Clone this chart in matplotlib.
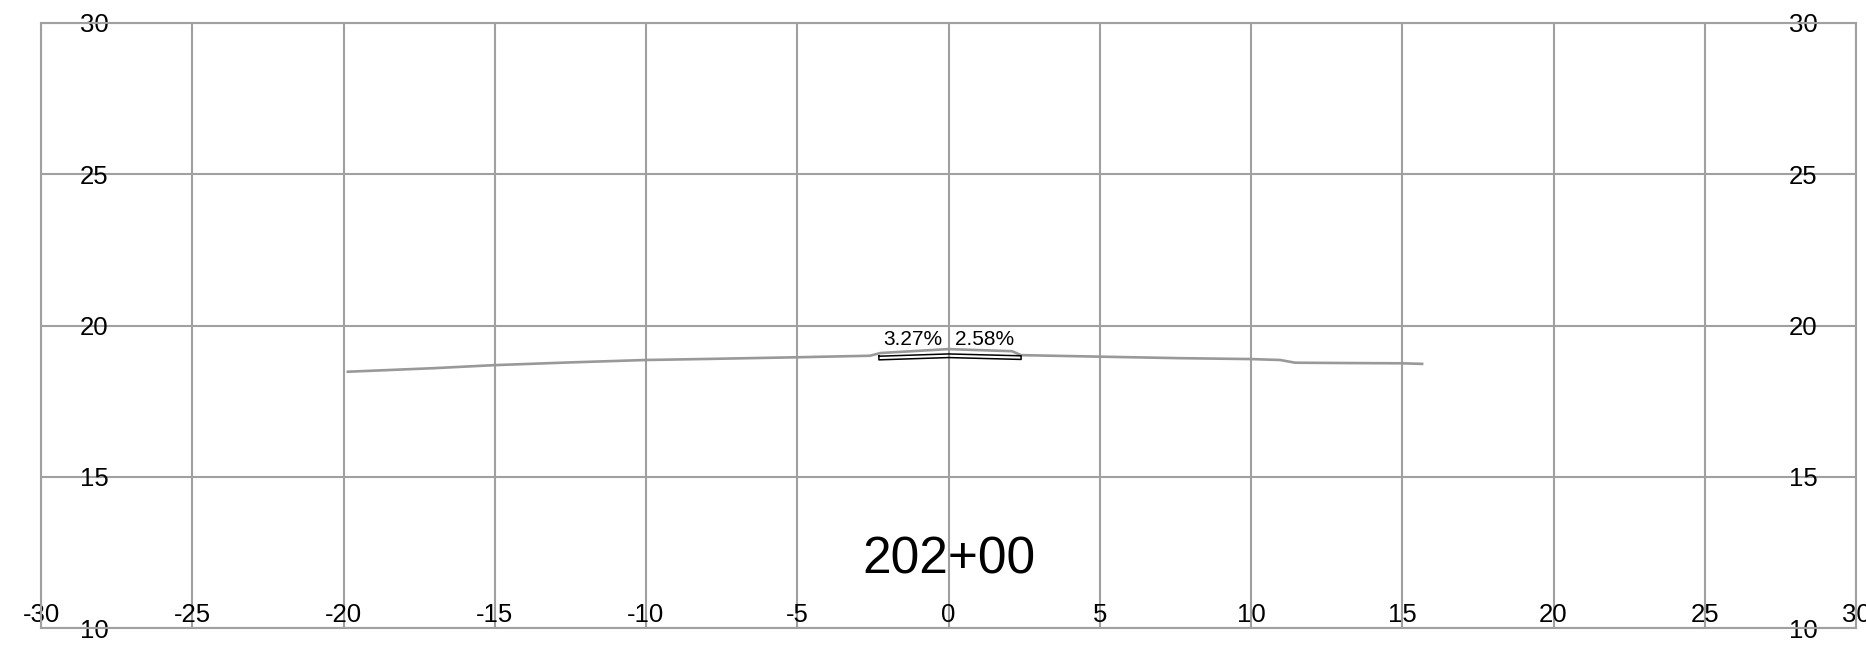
import numpy as np
import matplotlib
matplotlib.use('Agg')
import matplotlib.pyplot as plt

plt.rcParams['font.family'] = ['Liberation Sans', 'DejaVu Sans']

# station label
station = '202+00'

# axis ranges / ticks
x_ticks = [-30, -25, -20, -15, -10, -5, 0, 5, 10, 15, 20, 25, 30]
y_ticks = [10, 15, 20, 25, 30]

# existing ground profile (offset, elevation)
ground_x = [-19.9, -17.0, -15.0, -12.5, -10.0, -8.2, -5.0, -2.6, -2.25, 0.0, 2.1, 2.4,
            5.0, 7.65, 10.0, 10.96, 11.46, 13.0, 15.0, 15.7]
ground_y = [18.47, 18.59, 18.69, 18.78, 18.86, 18.89, 18.95, 19.0, 19.09, 19.22, 19.15, 19.02,
            18.97, 18.92, 18.89, 18.86, 18.77, 18.76, 18.75, 18.73]

# proposed pavement section
left_width = 2.3
right_width = 2.4
left_slope = 3.27   # percent
right_slope = 2.58  # percent
crown_elev = 19.06
thickness = 0.12

fig = plt.figure(figsize=(18.66, 6.45), dpi=100)
ax = fig.add_axes([41/1866, 17/645, 1815/1866, 605/645])

gridc = '#a0a0a0'
ax.grid(True, color=gridc, lw=1.5)
for s in ax.spines.values():
    s.set_color(gridc)
    s.set_linewidth(1.5)

ax.plot(ground_x, ground_y, color='#999999', lw=1.9, solid_capstyle='butt', zorder=3)

# pavement polygon
top_l = crown_elev - left_width * left_slope / 100
top_r = crown_elev - right_width * right_slope / 100
px = [-left_width, 0, right_width, right_width, 0, -left_width, -left_width]
py = [top_l, crown_elev, top_r, top_r - thickness, crown_elev - thickness,
      top_l - thickness, top_l]
ax.plot(px, py, color='black', lw=1.1, zorder=4)

ax.text(-0.2, 19.34, f'{left_slope:.2f}%', ha='right', va='baseline', fontsize=15, zorder=5)
ax.text(0.2, 19.34, f'{right_slope:.2f}%', ha='left', va='baseline', fontsize=15, zorder=5)

ax.text(0, 11.81, station, ha='center', va='baseline', fontsize=37, zorder=5)

ax.set_xlim(-30, 30)
ax.set_ylim(10, 30)
ax.set_xticks(x_ticks)
ax.set_yticks(y_ticks)
ax.set_xticklabels([str(v) for v in x_ticks])
ax.set_yticklabels([str(v) for v in y_ticks])
ax.tick_params(length=0, labelsize=18.5)
ax.tick_params(axis='y', labelright=True, pad=-38.2)
ax.tick_params(axis='x', pad=-9.7)
for lab in ax.get_yticklabels():
    lab.set_horizontalalignment('center')
for lab in ax.get_xticklabels():
    lab.set_verticalalignment('center')

fig.savefig('out.png', dpi=100)
